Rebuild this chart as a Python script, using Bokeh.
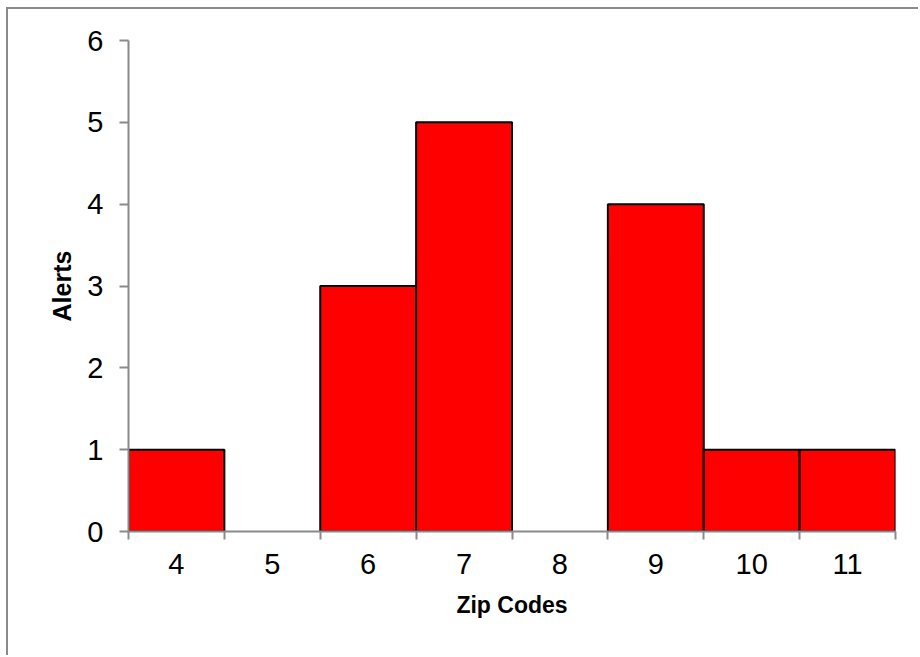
from bokeh.plotting import figure
from bokeh.models import FixedTicker, Range1d, ColumnDataSource
from bokeh.embed import file_html
from bokeh.resources import INLINE

zip_codes = [4, 5, 6, 7, 8, 9, 10, 11]
alerts = [1, 0, 3, 5, 0, 4, 1, 1]
y_ticks = [0, 1, 2, 3, 4, 5, 6]

# only non-empty bins are drawn as bars
src = ColumnDataSource(dict(x=[z for z, a in zip(zip_codes, alerts) if a > 0],
                            top=[a for a in alerts if a > 0]))

gray = "#8a8a8a"
font = "Liberation Sans"

p = figure(width=912, height=648, output_backend="svg", toolbar_location=None,
           x_range=Range1d(3.5, 11.5), y_range=Range1d(0, 6),
           min_border_left=120, min_border_right=25, min_border_top=31, min_border_bottom=126)
p.margin = (7, 0, 0, 6)
p.styles = {"border-left": f"2px solid {gray}", "border-top": f"2px solid {gray}"}
p.background_fill_color = "white"
p.border_fill_color = "white"
p.outline_line_color = None
p.grid.visible = False

p.vbar(x="x", top="top", width=1, bottom=0, source=src, fill_color="#ff0000",
       line_color="black", line_width=2)

xa = p.xaxis[0]
xa.ticker = FixedTicker(ticks=zip_codes, minor_ticks=[z - 0.5 for z in zip_codes] + [zip_codes[-1] + 0.5])
xa.major_tick_out = 0
xa.major_tick_in = 0
xa.minor_tick_out = 8
xa.minor_tick_in = 0
xa.minor_tick_line_color = gray
xa.minor_tick_line_width = 2
xa.axis_line_color = gray
xa.axis_line_width = 2
xa.major_label_text_font = font
xa.major_label_text_font_size = "29px"
xa.major_label_text_color = "black"
xa.major_label_standoff = 14
xa.axis_label = "Zip Codes"
xa.axis_label_text_font = font
xa.axis_label_text_font_size = "23px"
xa.axis_label_text_font_style = "bold"
xa.axis_label_text_color = "black"
xa.axis_label_standoff = 15

ya = p.yaxis[0]
ya.ticker = FixedTicker(ticks=y_ticks, minor_ticks=[])
ya.major_tick_out = 9
ya.major_tick_in = 0
ya.major_tick_line_color = gray
ya.major_tick_line_width = 2
ya.axis_line_color = gray
ya.axis_line_width = 2
ya.major_label_text_font = font
ya.major_label_text_font_size = "29px"
ya.major_label_text_color = "black"
ya.major_label_standoff = 16
ya.axis_label = "Alerts"
ya.axis_label_text_font = font
ya.axis_label_text_font_size = "25px"
ya.axis_label_text_font_style = "bold"
ya.axis_label_text_color = "black"
ya.axis_label_standoff = 8

open("out.html", "w").write(file_html(p, INLINE))
